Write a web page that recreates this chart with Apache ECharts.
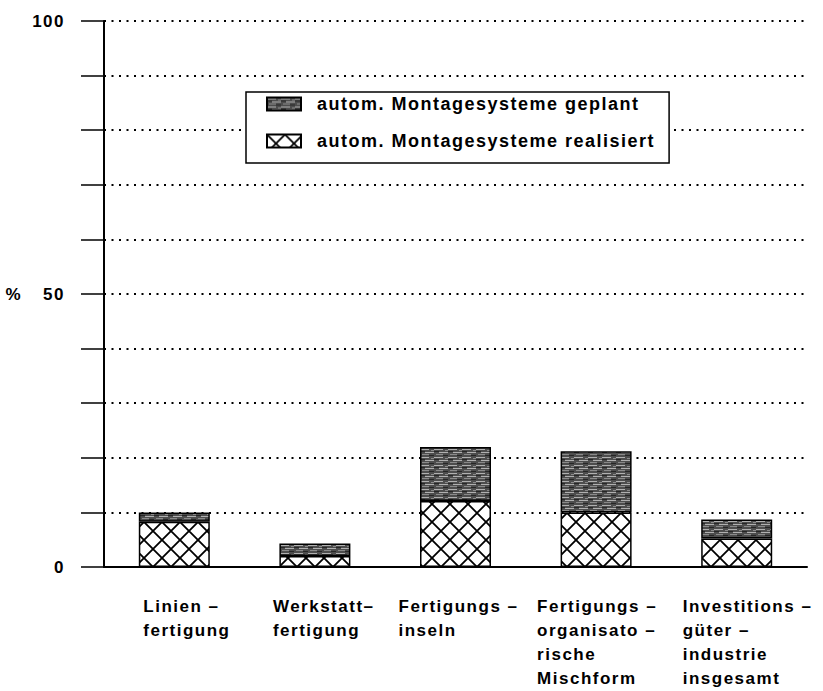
<!DOCTYPE html>
<html>
<head>
<meta charset="utf-8">
<script src="https://cdn.jsdelivr.net/npm/echarts@6/dist/echarts.min.js"></script>
<style>
  html, body { margin: 0; padding: 0; background: #fff; }
  #chart { width: 823px; height: 691px; }
  /* wide tracking of the typeset labels */
  #chart text { letter-spacing: 1.5px; }
</style>
</head>
<body>
<div id="chart"></div>
<script>
// Categories (production organisation types)
const categories = [
  'Linien –\nfertigung',
  'Werkstatt–\nfertigung',
  'Fertigungs –\ninseln',
  'Fertigungs –\norganisato –\nrische\nMischform',
  'Investitions –\ngüter –\nindustrie\ninsgesamt'
];
// Share of plants with automated assembly systems already in place (%)
const realisiert = [8.3, 2.0, 12.1, 10.0, 5.2];
// Additional share with automated assembly systems planned (%), stacked on top
const geplant = [1.7, 2.3, 9.9, 11.2, 3.5];
// Value-axis labels that are printed
const yTickLabels = [0, 50, 100];

const seriesNames = ['autom. Montagesysteme realisiert', 'autom. Montagesysteme geplant'];
const FONT = 'Liberation Sans';

// Horizontal indent of each category label block relative to the common offset
const labelIndent = [28, 17, 2, 0, 5];

// Cross-hatch fill for the realised share
function makeHatch() {
  const s = 18;
  const c = document.createElement('canvas');
  c.width = s; c.height = s;
  const g = c.getContext('2d');
  g.fillStyle = '#fff';
  g.fillRect(0, 0, s, s);
  g.strokeStyle = '#000';
  g.lineWidth = 1.8;
  g.beginPath();
  g.moveTo(-2, -2); g.lineTo(s + 2, s + 2);
  g.moveTo(s + 2, -2); g.lineTo(-2, s + 2);
  g.stroke();
  return c;
}

// Dark streaky raster fill for the planned share
function makeRaster() {
  const w = 14, h = 8;
  const c = document.createElement('canvas');
  c.width = w; c.height = h;
  const g = c.getContext('2d');
  g.fillStyle = '#4d4d4d';
  g.fillRect(0, 0, w, h);
  g.fillStyle = '#b0b0b0';
  g.fillRect(0, 1, 9, 1);
  g.fillRect(5, 4, 9, 1);
  g.fillStyle = '#8a8a8a';
  g.fillRect(2, 6, 7, 1);
  g.fillRect(11, 2, 3, 1);
  g.fillStyle = '#262626';
  g.fillRect(0, 3, 5, 1);
  g.fillRect(9, 7, 5, 1);
  return c;
}

const hatch = { image: makeHatch(), repeat: 'repeat' };
const raster = { image: makeRaster(), repeat: 'repeat' };

// Rich-text styles: one spacer per category plus the text style
const labelRich = {
  t: { fontFamily: FONT, fontWeight: 'bold', fontSize: 17, color: '#000', lineHeight: 24 }
};
labelIndent.forEach((w, i) => {
  labelRich['p' + i] = { width: w, lineHeight: 24 };
});

const chart = echarts.init(document.getElementById('chart'), null, { renderer: 'svg' });

chart.setOption({
  animation: false,
  backgroundColor: '#fff',
  textStyle: { fontFamily: FONT },
  grid: { left: 104, right: 16, top: 21, bottom: 124, containLabel: false },
  legend: {
    orient: 'vertical',
    left: 246,
    top: 92,
    data: [seriesNames[1], seriesNames[0]],
    backgroundColor: '#fff',
    borderColor: '#000',
    borderWidth: 1.5,
    borderRadius: 0,
    padding: [3, 62, 13, 20],
    itemWidth: 34,
    itemHeight: 13,
    itemGap: 19,
    icon: 'rect',
    selectedMode: false,
    textStyle: {
      fontFamily: FONT, fontWeight: 'bold', fontSize: 18, lineHeight: 18,
      color: '#000', padding: [0, 0, 0, 11]
    }
  },
  xAxis: {
    type: 'category',
    data: categories,
    boundaryGap: true,
    axisLine: { show: true, lineStyle: { color: '#000', width: 2 } },
    axisTick: { show: false },
    splitLine: { show: false },
    axisLabel: {
      interval: 0,
      align: 'left',
      verticalAlign: 'top',
      margin: 27,
      padding: [0, 0, 0, -59],
      lineHeight: 24,
      formatter: (value, idx) =>
        value.split('\n').map(line => '{p' + idx + '| }{t|' + line + '}').join('\n'),
      rich: labelRich
    }
  },
  yAxis: {
    type: 'value',
    min: 0,
    max: 100,
    interval: 10,
    name: '%',
    nameLocation: 'middle',
    nameRotate: 0,
    nameGap: 82,
    nameTextStyle: { fontFamily: FONT, fontWeight: 'bold', fontSize: 17, color: '#000' },
    axisLine: { show: true, lineStyle: { color: '#000', width: 2 } },
    axisTick: { show: true, inside: false, length: 23, lineStyle: { color: '#000', width: 1.5 } },
    axisLabel: {
      margin: 39,
      fontFamily: FONT,
      fontWeight: 'bold',
      fontSize: 17,
      color: '#000',
      formatter: v => (yTickLabels.indexOf(v) >= 0 ? String(v) : '')
    },
    splitLine: { show: true, lineStyle: { color: '#000', width: 2, type: [2, 5.5] } }
  },
  series: [
    {
      name: seriesNames[0],
      type: 'bar',
      stack: 'montage',
      barWidth: 71,
      data: realisiert,
      itemStyle: { color: hatch, borderColor: '#000', borderWidth: 1.5 }
    },
    {
      name: seriesNames[1],
      type: 'bar',
      stack: 'montage',
      barWidth: 71,
      data: geplant,
      itemStyle: { color: raster, borderColor: '#000', borderWidth: 1.5 }
    }
  ]
});
</script>
</body>
</html>
